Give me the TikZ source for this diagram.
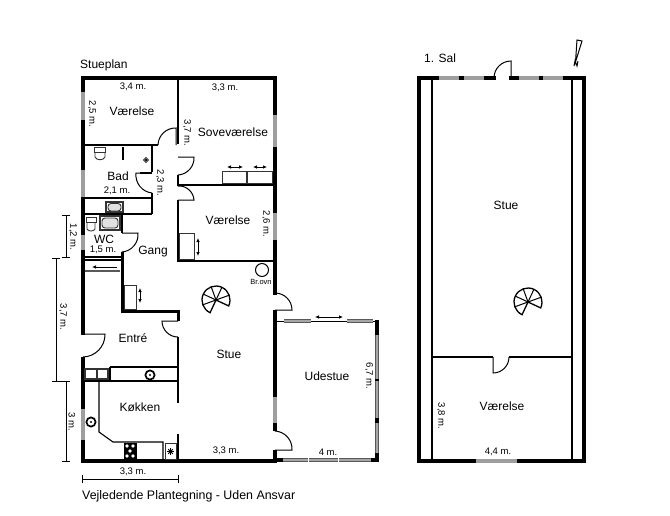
\documentclass[tikz,border=0pt]{standalone}
\usepackage{fontspec}
\setmainfont{Liberation Sans}
\usetikzlibrary{arrows.meta}

\newcommand{\spiralstair}[2]{%
    \draw[stair] ({#1+14*cos(245)},{#2-14*sin(245)}) arc[start angle=245, end angle=-25, radius=14pt] -- (#1,#2) -- cycle;
    \foreach \a in {20,65,110,155,200} {
        \draw[door] (#1,#2) -- ({#1+14*cos(\a)},{#2-14*sin(\a)});
    }
}
\newcommand{\ringstove}[2]{%
    \draw[line width=1.7pt] (#1,#2) circle[radius=4.6pt];
    \fill (#1,#2) circle[radius=1.2pt];
}

\begin{document}
\begin{tikzpicture}[x=1pt, y=-1pt]
    % Define styles
    \tikzstyle{wall} = [draw, line width=4pt]
    \tikzstyle{inner} = [draw, line width=1.8pt]
    \tikzstyle{window} = [draw, line width=3.8pt, black!38]
    \tikzstyle{glazing} = [draw=black!65, line width=0.6pt, double=black!35, double distance=1.9pt]
    \tikzstyle{door} = [draw, line width=1pt]
    \tikzstyle{fitting} = [draw, line width=0.9pt, black!80]
    \tikzstyle{stair} = [draw, line width=1.3pt]
    \tikzstyle{dim} = [draw, line width=1pt]
    \tikzstyle{slide} = [line width=0.9pt, {Latex[length=4pt,width=3.6pt]}-{Latex[length=4pt,width=3.6pt]}]
    \tikzstyle{room} = [font=\fontsize{12}{14}\selectfont, inner sep=0pt]
    \tikzstyle{size} = [font=\fontsize{9.5}{11}\selectfont, inner sep=0pt]
    \useasboundingbox (0,0) rectangle (670,515);

    % Outer walls, ground floor
    \draw[wall, line cap=rect] (83,333) -- (83,78) -- (275,78) -- (275,293);
    \draw[wall] (83,357) -- (83,461) -- (275,461) -- (275,450);
    \draw[wall] (275,310) -- (275,431);
    \foreach \ya/\yb in {92/120, 170/197, 235/250, 409/440} {
        \draw[window] (83,\ya) -- (83,\yb);
    }
    \foreach \ya/\yb in {115/147, 213/240, 397/423} {
        \draw[window] (275,\ya) -- (275,\yb);
    }

    % Inner walls
    \draw[inner] (178,78) -- (178,144);
    \draw[inner] (83,145) -- (158,145);
    \draw[inner] (178,175) -- (178,185) -- (275,185);
    \draw[inner] (178,200) -- (178,261) -- (275,261);
    \draw[inner] (152,145) -- (152,172);
    \draw[inner] (152,193) -- (152,214);
    \draw[inner] (83,198) -- (152,198);
    \draw[inner] (83,214) -- (152,214);
    \draw[inner] (123,147) -- (123,160);
    \draw[inner] (122,214) -- (122,233);
    \draw[wall, line width=2.4pt] (83,257) -- (122,257);
    \draw[wall, line width=2.8pt] (83,260) -- (122,260);
    \draw[wall, line width=3pt] (122,252) -- (122,311) -- (178,311) -- (178,321);
    \draw[inner] (178,337) -- (178,403);
    \draw[inner] (178,434) -- (178,461);
    \draw[inner] (110,367) -- (178,367);
    \draw[inner] (83,381) -- (178,381);
    \draw[inner] (110,367) -- (110,381);
    \draw[line width=2pt] (140,173) -- (152,173);

    % Doors, ground floor
    \draw[door] (176,145) -- (176,128) to[bend right=45] (158,145);
    \draw[door] (178,157) -- (194,157) to[bend left=45] (178,175);
    \draw[door] (178,200) -- (194,200) to[bend right=45] (178,186);
    \draw[door] (152,173) -- (136,173) to[bend right=45] (152,193);
    \draw[door] (122,233) -- (138,233) to[bend left=45] (122,252);
    \draw[door] (83,334) -- (105,334) to[bend left=45] (83,357);
    \draw[door] (178,321) -- (162,321) to[bend right=45] (178,337);
    \draw[door] (275,310) -- (292,310) to[bend right=45] (275,293);
    \draw[door] (275,450) -- (292,450) to[bend right=45] (275,431);

    % Udestue
    \draw[door] (277,321) -- (377,321);
    \foreach \xa/\xb in {284/311, 347/373} {
        \draw[glazing] (\xa,321) -- (\xb,321);
    }
    \draw[glazing] (377,321) -- (377,461);
    \foreach \ya/\yb in {320/335, 379/381, 418/423, 453/462} {
        \draw[wall, line width=3.2pt] (377,\ya) -- (377,\yb);
    }
    \draw[wall, line width=3.2pt] (371,460) -- (379,460);
    \draw[wall, line width=3.2pt] (277,460) -- (283,460);
    \foreach \xa/\xb in {283/308, 309/338, 339/371} {
        \draw[glazing] (\xa,460) -- (\xb,460);
    }
    \draw[slide] (315,317) -- (343,317);

    % Bad and WC
    \draw[fitting] (94,147) rectangle (105,152);
    \draw[fitting] (95,152) -- (95,157) to[bend right=70] (105,157) -- (105,152);
    \fill (146,160) circle[radius=1.3pt];
    \draw[fitting] (146,157.5) -- (148.5,160) -- (146,162.5) -- (143.5,160) -- cycle;
    \draw[fitting, line width=1.4pt] (106,202) rectangle (123,212);
    \draw[fitting, fill=black!12, rounded corners=3pt] (108,203.5) rectangle (121,211);
    \draw[fitting, line width=1.8pt] (100,216) rectangle (120,230);
    \draw[fitting, fill=black!12, rounded corners=3pt] (102,218) rectangle (118,228);
    \draw[fitting] (86,217) rectangle (96,222);
    \draw[fitting] (87,222) -- (87,229) to[bend right=60] (95,229) -- (95,222);

    % Furniture
    \draw[fitting] (222,171) rectangle (246,183);
    \draw[fitting] (247,171) rectangle (272,183);
    \draw[slide] (227,167) -- (243,167);
    \draw[slide] (253,167) -- (267,167);
    \draw[fitting] (179,233) rectangle (194,259);
    \draw[slide] (198,238) -- (198,256);
    \draw[fitting, black!65, line width=1.2pt] (85,271) -- (120,271);
    \draw[line width=0.9pt, -{Latex[length=4pt,width=3.6pt]}] (117,267) -- (92,267);
    \draw[fitting] (124,285) rectangle (136,309);
    \draw[slide] (140,288) -- (140,303);
    \draw[line width=1pt] (262,270) circle[radius=6.5pt];

    % Kitchen
    \draw[fitting, line width=1.2pt] (85,369) rectangle (97,379);
    \draw[fitting, line width=1.2pt] (97,369) rectangle (108,379);
    \ringstove{150}{375}
    \ringstove{91}{422}
    \draw[door, line width=1.1pt] (99,381) -- (99,432) -- (113,442) -- (163,442) -- (163,461);
    \fill (124,443) rectangle (137,459);
    \foreach \x/\y in {127/446, 133/446, 130/451, 127/456, 133/456} {
        \fill[white] (\x,\y) circle[radius=1.9pt];
    }
    \draw[fitting] (165,443) rectangle (176,459);
    \foreach \a in {0,45,90,135} {
        \draw[line width=1pt] ({170.5+3.2*cos(\a)},{451.5+3.2*sin(\a)}) -- ({170.5-3.2*cos(\a)},{451.5-3.2*sin(\a)});
    }

    % Stairs
    \spiralstair{216}{300}
    \spiralstair{528}{302}

    % Dimensions
    \draw[dim] (66,215) -- (66,257);
    \draw[dim] (62,215) -- (70,215);
    \draw[dim] (62,257) -- (70,257);
    \draw[dim] (56,258) -- (56,381);
    \draw[dim] (52,258) -- (60,258);
    \draw[dim] (52,381) -- (70,381);
    \draw[dim] (66,381) -- (66,461);
    \draw[dim] (62,461) -- (70,461);
    \draw[dim] (82,479) -- (178,479);
    \draw[dim] (82,475) -- (82,483);
    \draw[dim] (178,475) -- (178,483);

    % Upper floor
    \draw[wall, line cap=rect] (494,78) -- (419,78) -- (419,461) -- (584,461) -- (584,78) -- (511,78);
    \foreach \xa/\xb in {439/459, 464/484, 519/539, 543/563} {
        \draw[window] (\xa,78) -- (\xb,78);
    }
    \draw[window] (476,461) -- (517,461);
    \draw[inner, line width=1.3pt] (432,80) -- (432,459);
    \draw[inner, line width=1.3pt] (572,80) -- (572,459);
    \draw[inner] (432,357) -- (493,357);
    \draw[inner] (509,357) -- (572,357);
    \draw[door] (511,78) -- (511,61) to[bend right=45] (494,78);
    \draw[door] (493,357) -- (493,373) to[bend right=45] (509,357);

    % North arrow
    \draw[door] (577,40) -- (582,41) -- (575.5,62) -- cycle;
    \draw[door] (574,66) -- (575,61) -- (577,66) -- (578,61);

    % Labels
    \node[room, anchor=west] (groundfloor) at (80,65) {Stueplan};
    \node[room, anchor=west] (upperfloor) at (424,58) {1. Sal};
    \node[room, anchor=west, font=\fontsize{12.4}{14}\selectfont] (caption) at (82,496.5) {Vejledende Plantegning - Uden Ansvar};
    \foreach \x/\y/\name in {132/111/Værelse, 233/132/Soveværelse, 118/176/Bad, 228/220/Værelse,
        104/239/WC, 153/252/Gang, 133/338/Entré, 229/354/Stue, 140/407/Køkken, 327/376/Udestue,
        506/205/Stue, 502/406/Værelse} {
        \node[room] at (\x,\y) {\name};
    }
    \foreach \x/\y/\name in {133/87/{3,4 m.}, 225/88/{3,3 m.}, 117/191/{2,1 m.}, 103/250/{1,5 m.},
        226/451/{3,3 m.}, 328/452/{4 m.}, 498/452/{4,4 m.}, 133/472/{3,3 m.}} {
        \node[size] at (\x,\y) {\name};
    }
    \foreach \x/\y/\name in {92/114/{2,5 m.}, 187/133/{3,7 m.}, 160/183/{2,3 m.}, 266/224/{2,6 m.},
        73/237/{1,2 m.}, 63/317/{3,7 m.}, 72/422/{3 m.}, 369/376/{6,7 m.}, 441/416/{3,8 m.}} {
        \node[size, rotate=-90] at (\x,\y) {\name};
    }
    \node[size, font=\fontsize{7.5}{9}\selectfont] (stove) at (261,282) {Br.ovn};
\end{tikzpicture}
\end{document}
